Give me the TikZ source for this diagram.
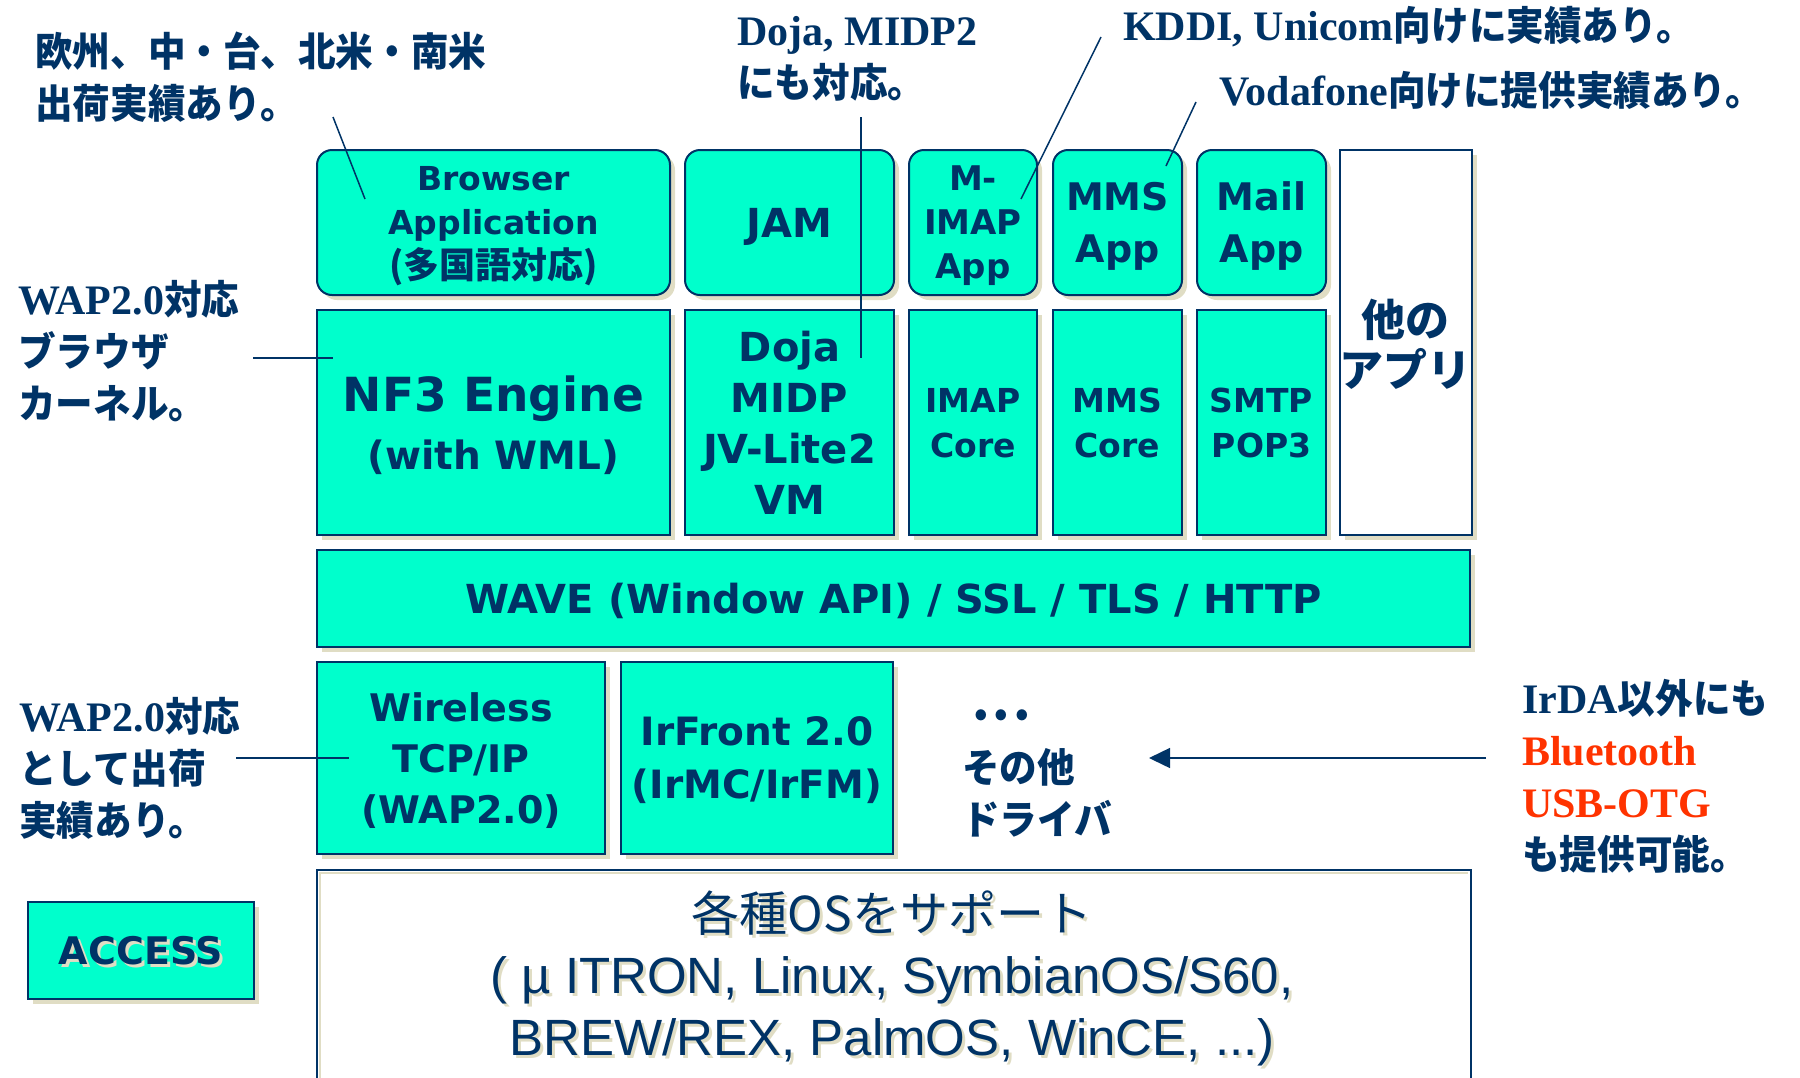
\documentclass[tikz,border=0pt]{standalone}
\usepackage{fontspec}
\setmainfont{Liberation Serif}
\newfontfamily\boxfont{DejaVu Sans}
\newfontfamily\jpfont{Noto Sans CJK JP}
\newfontfamily\jpnote{Noto Sans CJK JP}[FakeStretch=0.94]
\newfontfamily\osfont{Liberation Sans}
\usetikzlibrary{shadows,arrows.meta,calc}
\definecolor{navy}{RGB}{0,51,102}
\definecolor{aqua}{RGB}{0,255,204}
\definecolor{shadowc}{RGB}{224,221,196}
\definecolor{accred}{RGB}{255,51,0}
\newcommand\setfs[2]{\fontsize{#1}{#2}\selectfont}
\newcommand\jp[1]{{\jpnote\setfs{40}{52}#1}}
\newcommand\shtext[1]{\leavevmode\rlap{\hspace{3pt}\raisebox{-3pt}{\textcolor{shadowc}{#1}}}#1}
\begin{document}
\begin{tikzpicture}[x=1pt,y=-1pt,
  blk/.style={draw=navy, line width=2pt, fill=aqua, text=navy, align=center, inner sep=0pt, text depth=0pt},
  shd/.style={general shadow={fill=shadowc, shadow xshift=5pt, shadow yshift=-5pt}},
  sq/.style={blk, shd},
  rblk/.style={blk, shd, rounded corners=15pt},
  note/.style={text=navy, anchor=west, align=left, inner sep=0pt, font=\bfseries\setfs{42}{52}},
  leader/.style={draw=navy, line width=1.5pt}]
\useasboundingbox (0,0) rectangle (1800,1077);
\clip (0,0) rectangle (1800,1077);

% top row (rounded)
\node[rblk, minimum width=353pt, minimum height=145pt, font=\boxfont\bfseries\setfs{33}{44}] (browser) at (493.5,222.5)
  {Browser\\Application\\{\jpfont\setfs{36}{44}(多国語対応)}};
\node[rblk, minimum width=209pt, minimum height=145pt, font=\boxfont\bfseries\setfs{40}{48}] (jam) at (789.5,222.5) {JAM};
\node[rblk, minimum width=128pt, minimum height=145pt, font=\boxfont\bfseries\setfs{34}{44}] (mimap) at (973,222.5) {M-\\IMAP\\App};
\node[rblk, minimum width=129pt, minimum height=145pt, font=\boxfont\bfseries\setfs{38}{52}] (mmsapp) at (1117.5,222.5) {MMS\\App};
\node[rblk, minimum width=129pt, minimum height=145pt, font=\boxfont\bfseries\setfs{38}{52}] (mailapp) at (1261.5,222.5) {Mail\\App};
\node[sq, fill=white, minimum width=129pt, minimum height=385pt, font=\jpfont\bfseries\setfs{44}{50}] (other) at (1405.5,342.5) {他の\\アプリ};

% second row
\node[sq, minimum width=353pt, minimum height=225pt, font=\boxfont\bfseries\setfs{39}{58}] (nf3) at (493.5,422.5)
  {{\setfs{47}{58}NF3 Engine}\\(with WML)};
\node[sq, minimum width=209pt, minimum height=225pt, font=\boxfont\bfseries\setfs{40}{51}] (doja) at (789.5,422.5) {Doja\\MIDP\\JV-Lite2\\VM};
\node[sq, minimum width=128pt, minimum height=225pt, font=\boxfont\bfseries\setfs{33}{45}] (imapcore) at (973,422.5) {IMAP\\Core};
\node[sq, minimum width=129pt, minimum height=225pt, font=\boxfont\bfseries\setfs{33}{45}] (mmscore) at (1117.5,422.5) {MMS\\Core};
\node[sq, minimum width=129pt, minimum height=225pt, font=\boxfont\bfseries\setfs{33}{45}] (smtp) at (1261.5,422.5) {SMTP\\POP3};

% WAVE
\node[sq, minimum width=1153pt, minimum height=97pt, font=\boxfont\bfseries\setfs{40}{48}] (wave) at (893.5,598.5) {WAVE (Window API) / SSL / TLS / HTTP};

% drivers
\node[sq, minimum width=288pt, minimum height=192pt, font=\boxfont\bfseries\setfs{38}{51}] (wireless) at (461,758) {Wireless\\TCP/IP\\(WAP2.0)};
\node[sq, minimum width=272pt, minimum height=192pt, font=\boxfont\bfseries\setfs{39}{53}] (irfront) at (757,758) {IrFront 2.0\\(IrMC/IrFM)};

% OS
\node[blk, fill=white, minimum width=1154pt, minimum height=220pt] (os) at (894,980) {};
\draw[draw=shadowc, line width=2pt] ($(os.south west)+(4,0)$) |- ($(os.north east)+(-4,4)$);
\node[text=navy, inner sep=0pt, align=center, font=\osfont\setfs{51}{62}] (ostext) at (892,980)
  {\shtext{{\jpfont\setfs{48}{62}各種OSをサポート}}\\\shtext{( µ ITRON, Linux, SymbianOS/S60,}\\\shtext{BREW/REX, PalmOS, WinCE, ...)}};

% ACCESS
\node[sq, minimum width=226pt, minimum height=97pt, font=\boxfont\bfseries\setfs{38}{46}] (access) at (141,950.5) {\shtext{ACCESS}};

% annotations
\node[note] (n1) at (35,77) {\jp{欧州、中・台、北米・南米}\\\jp{出荷実績あり。}};
\node[note] (n2) at (737,59) {Doja, MIDP2\\\jp{にも対応。}};
\node[note] (n3) at (1123,27) {KDDI, Unicom\jp{向けに実績あり。}};
\node[note] (n4) at (1219,90) {Vodafone\jp{向けに提供実績あり。}};
\node[note] (n5) at (18,351) {WAP2.0\jp{対応}\\\jp{ブラウザ}\\\jp{カーネル。}};
\node[note] (n6) at (19,768) {WAP2.0\jp{対応}\\\jp{として出荷}\\\jp{実績あり。}};
\node[note] (n7) at (962,773) {\jp{・\kern-17pt・\kern-17pt・}\\\jp{その他}\\\jp{ドライバ}};
\node[note] (n8) at (1522,776) {IrDA\jp{以外にも}\\\textcolor{accred}{Bluetooth}\\\textcolor{accred}{USB-OTG}\\\jp{も提供可能。}};

% leader lines
\coordinate (c1a) at (333,117); \coordinate (c1b) at (365,199);
\coordinate (c2a) at (861,117); \coordinate (c2b) at (861,358);
\coordinate (c3a) at (1101,37); \coordinate (c3b) at (1021,199);
\coordinate (c4a) at (1196,102); \coordinate (c4b) at (1166,166);
\coordinate (c5a) at (253,358); \coordinate (c5b) at (333,358);
\coordinate (c6a) at (236,758); \coordinate (c6b) at (349,758);
\coordinate (arrS) at (1486,758); \coordinate (arrE) at (1149,758);
\draw[leader] (c1a) -- (c1b);
\draw[leader] (c2a) -- (c2b);
\draw[leader] (c3a) -- (c3b);
\draw[leader] (c4a) -- (c4b);
\draw[leader] (c5a) -- (c5b);
\draw[leader] (c6a) -- (c6b);
\draw[leader, -{Triangle[length=21pt,width=20pt]}] (arrS) -- (arrE);
\end{tikzpicture}
\end{document}
